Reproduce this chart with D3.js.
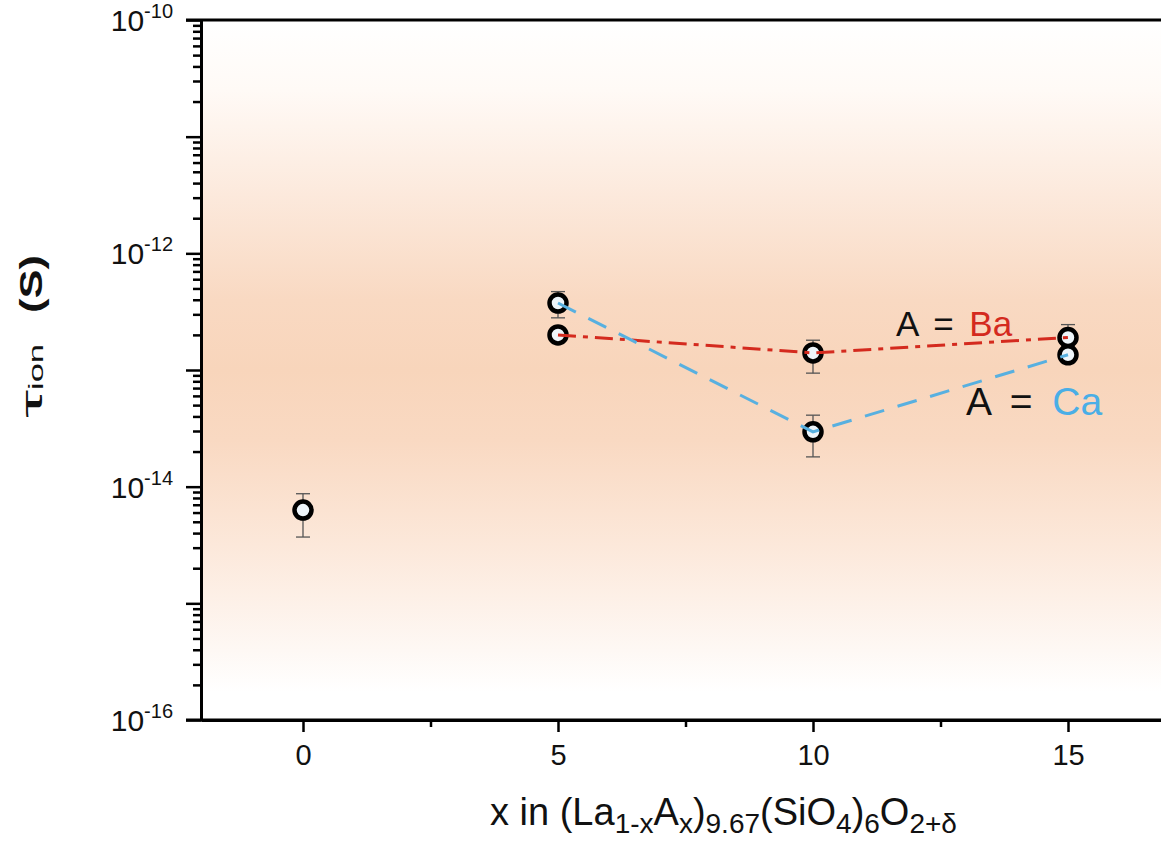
<!DOCTYPE html>
<html>
<head>
<meta charset="utf-8">
<script src="https://cdn.jsdelivr.net/npm/d3@7"></script>
<style>
  body { margin: 0; background: #fff; }
  svg { display: block; font-family: "Liberation Sans", Arial, sans-serif; }
</style>
</head>
<body>
<div id="vis"></div>
<script>
// data
const xTicks = [0, 5, 10, 15];
const xMinor = [2.5, 7.5, 12.5];
const yExps = [-16, -15, -14, -13, -12, -11, -10];
const yLabelExps = [-16, -14, -12, -10];

const x0 = [0];
const laVals = [6.3e-15];
const laLo = [3.7e-15];
const laHi = [8.7e-15];

const dopX = [5, 10, 15];
const baVals = [2.0e-13, 1.4e-13, 1.9e-13];
const baLo = [1.85e-13, 9.4e-14, 1.6e-13];
const baHi = [2.2e-13, 1.8e-13, 2.45e-13];
const caVals = [3.75e-13, 2.95e-14, 1.35e-13];
const caLo = [2.8e-13, 1.8e-14, 1.25e-13];
const caHi = [4.7e-13, 4.1e-14, 1.45e-13];

const width = 1161;
const height = 841;
const margin = { top: 20, left: 201, bottom: 121 };

const svg = d3.select("#vis")
  .append("svg")
  .attr("width", width)
  .attr("height", height);

const x = d3.scaleLinear()
  .domain([-2, 17])
  .range([margin.left, margin.left + 19 * 51]);
const y = d3.scaleLog()
  .domain([1e-16, 1e-10])
  .range([height - margin.bottom, margin.top]);

// peach background band
const grad = svg.append("defs").append("linearGradient")
  .attr("id", "bg")
  .attr("x1", 0).attr("y1", 0).attr("x2", 0).attr("y2", 1);
[[0, "#ffffff"], [0.1, "#fffaf6"], [0.25, "#fce9dc"], [0.4, "#f9d9c2"],
 [0.5, "#f8d5bb"], [0.6, "#f9d9c2"], [0.75, "#fce8da"], [0.9, "#fef8f4"], [0.96, "#ffffff"], [1, "#ffffff"]]
  .forEach(function(s) {
    grad.append("stop").attr("offset", s[0]).attr("stop-color", s[1]);
  });

svg.append("rect")
  .attr("x", x(-2))
  .attr("y", y(1e-10))
  .attr("width", width - x(-2))
  .attr("height", y(1e-16) - y(1e-10))
  .attr("fill", "url(#bg)");

// axes
const axisG = svg.append("g");

// y minor ticks
const yMinor = [];
yExps.slice(0, -1).forEach(function(e) {
  for (let m = 2; m <= 9; m++) yMinor.push(m * Math.pow(10, e));
});
axisG.append("g")
  .attr("transform", "translate(" + x(-2) + ",0)")
  .call(d3.axisLeft(y).tickValues(yMinor).tickSize(8).tickFormat(""))
  .call(function(g) { g.select(".domain").remove(); });

const yAx = axisG.append("g")
  .attr("transform", "translate(" + x(-2) + ",0)")
  .call(d3.axisLeft(y).tickValues(yExps.map(function(e) { return Math.pow(10, e); }))
    .tickSize(15).tickSizeOuter(0).tickFormat(""));

axisG.selectAll("g.tick line").attr("stroke", "#000").attr("stroke-width", 2.5);
yAx.select(".domain").attr("stroke-width", 3);

// y tick labels with superscripts
const yLab = axisG.selectAll(".ylab")
  .data(yLabelExps)
  .enter().append("text")
  .attr("class", "ylab")
  .attr("x", 173)
  .attr("y", function(d) { return y(Math.pow(10, d)) + 11; })
  .attr("text-anchor", "end")
  .attr("font-size", 30)
  .attr("fill", "#111");
yLab.append("tspan").text("10");
yLab.append("tspan").attr("dy", -13).attr("font-size", 20).text(function(d) { return d; });

// x axis
const xAx = axisG.append("g")
  .attr("transform", "translate(0," + y(1e-16) + ")")
  .call(d3.axisBottom(x).tickValues(xTicks).tickSize(12).tickSizeOuter(0).tickPadding(12));
xAx.select(".domain").attr("stroke-width", 3);
xAx.selectAll(".tick line").attr("stroke-width", 2.5);
xAx.selectAll(".tick text").attr("font-size", 29).attr("fill", "#111")
  .attr("font-family", "Liberation Sans, Arial, sans-serif");

axisG.append("g")
  .attr("transform", "translate(0," + y(1e-16) + ")")
  .call(d3.axisBottom(x).tickValues(xMinor).tickSize(7).tickFormat(""))
  .call(function(g) {
    g.select(".domain").remove();
    g.selectAll("line").attr("stroke-width", 2.5);
  });

// frame lines (extend left over the major ticks)
[1e-10, 1e-16].forEach(function(v) {
  axisG.append("line")
    .attr("x1", x(-2) - 15).attr("x2", width)
    .attr("y1", y(v)).attr("y2", y(v))
    .attr("stroke", "#000").attr("stroke-width", 3);
});

// error bars
function errorBars(xs, lo, hi) {
  const g = svg.append("g").attr("stroke", "#555").attr("stroke-width", 1.3);
  xs.forEach(function(xv, i) {
    g.append("line").attr("x1", x(xv)).attr("x2", x(xv)).attr("y1", y(lo[i])).attr("y2", y(hi[i]));
    [lo[i], hi[i]].forEach(function(v) {
      g.append("line").attr("x1", x(xv) - 7).attr("x2", x(xv) + 7).attr("y1", y(v)).attr("y2", y(v));
    });
  });
}
errorBars(x0, laLo, laHi);
errorBars(dopX, baLo, baHi);
errorBars(dopX, caLo, caHi);

// markers
function markers(xs, vals) {
  svg.append("g").selectAll("circle")
    .data(vals)
    .enter().append("circle")
    .attr("cx", function(d, i) { return x(xs[i]); })
    .attr("cy", function(d) { return y(d); })
    .attr("r", 8.5)
    .attr("fill", "#eef5fa")
    .attr("stroke", "#000")
    .attr("stroke-width", 4.5);
}
markers(x0, laVals);
markers(dopX, baVals);
markers(dopX, caVals);

// connecting lines
const line = d3.line()
  .x(function(d, i) { return x(dopX[i]); })
  .y(function(d) { return y(d); });

svg.append("path")
  .datum(baVals)
  .attr("fill", "none")
  .attr("stroke", "#d42a1e")
  .attr("stroke-width", 3)
  .attr("stroke-dasharray", "18,7,5,7")
  .attr("d", line);

svg.append("path")
  .datum(caVals)
  .attr("fill", "none")
  .attr("stroke", "#58b0e0")
  .attr("stroke-width", 3)
  .attr("stroke-dasharray", "20,14")
  .attr("d", line);

// series labels
svg.append("text")
  .attr("x", 896).attr("y", 336)
  .attr("font-size", 35)
  .attr("word-spacing", 6)
  .attr("fill", "#111")
  .html('A = <tspan fill="#d42a1e">Ba</tspan>');

svg.append("text")
  .attr("x", 966).attr("y", 415)
  .attr("font-size", 39)
  .attr("word-spacing", 9)
  .attr("fill", "#111")
  .html('A = <tspan fill="#4aaee6">Ca</tspan>');

// x axis title
const xt = svg.append("text")
  .attr("x", 490).attr("y", 825)
  .attr("font-size", 38)
  .attr("fill", "#111");
const parts = [["x in (La", 0], ["1-x", 1], ["A", 0], ["x", 1], [")", 0], ["9.67", 1],
  ["(SiO", 0], ["4", 1], [")", 0], ["6", 1], ["O", 0], ["2+\u03b4", 1]];
let low = false;
parts.forEach(function(p) {
  const t = xt.append("tspan").text(p[0]);
  if (p[1] && !low) { t.attr("dy", 8).attr("font-size", 28); low = true; }
  else if (p[1]) { t.attr("font-size", 28); }
  else if (low) { t.attr("dy", -8); low = false; }
});

// y axis title (rotated, pieces placed along the axis)
const yt = svg.append("g")
  .attr("transform", "translate(42,0) rotate(-90)")
  .attr("fill", "#111");
yt.append("text").attr("x", -418).attr("y", 0)
  .attr("font-size", 30).attr("textLength", 28).attr("lengthAdjust", "spacingAndGlyphs")
  .text("\u03c4");
yt.append("text").attr("x", -390).attr("y", 1)
  .attr("font-size", 20).attr("textLength", 46).attr("lengthAdjust", "spacingAndGlyphs")
  .text("ion");
yt.append("text").attr("x", -313).attr("y", 0)
  .attr("font-size", 31).attr("font-weight", "bold")
  .attr("textLength", 58).attr("lengthAdjust", "spacingAndGlyphs")
  .text("(S)");
</script>
</body>
</html>
